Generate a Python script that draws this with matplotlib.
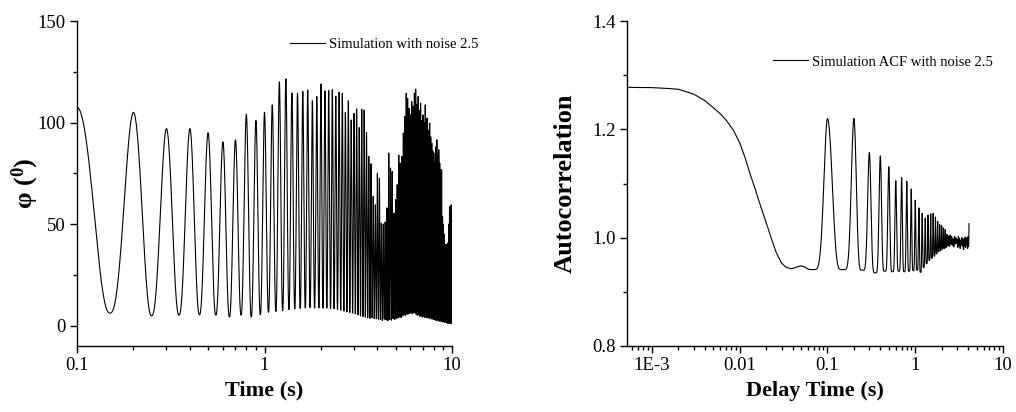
import numpy as np
import matplotlib
matplotlib.use("Agg")
import matplotlib.pyplot as plt
from matplotlib.ticker import FixedLocator, LogLocator, NullFormatter, FixedFormatter

# ---------------- data ----------------
PERIOD = 0.1  # s, oscillation period of the simulated angle

# Left panel: peak values of phi (deg) at t = 0.1, 0.2, ..., 10.0 s
phi_peaks = [107.5, 105, 97, 97, 95, 90.5, 91.5, 104, 101, 105,
             108.7, 120, 121.5, 114.5, 114.5, 115.3, 116, 110.7, 112.8, 119,
             115.6, 115.8, 116.1, 113, 115, 114.4, 105, 110.7, 101.3, 104.5,
             106.7, 97.5, 106.6, 106.2, 95, 83.3, 79.7, 63.6, 59.5, 75,
             72.6, 50.5, 50, 51, 58, 85, 77.6, 75.9, 55.4, 62,
             69.4, 84, 80, 83.3, 94.8, 103, 114.4, 112, 107, 103.8,
             110.3, 108, 114.4, 116.4, 109, 112.8, 106, 109.6, 101, 103.8,
             100, 108.7, 102, 102.2, 96, 99.7, 93, 89.9, 86, 85,
             80, 88, 91.5, 84, 86.6, 80, 76.7, 76.7, 53.8, 50,
             45, 40, 38.2, 40, 40.7, 50, 58.7, 55, 59.5, 59]
# Left panel: trough values of phi (deg) at t = 0.15, 0.25, ..., 9.95 s
phi_troughs = [6.2, 4.9, 5.2, 5.4, 5.2, 4.3, 5.2, 4.3, 5.4, 6.6,
               7.0, 7.5, 7.9, 8.3,
               8.5, 8.7, 8.9, 8.7, 8.8, 8.6, 8.7, 8.5, 8.3, 8.0, 7.6,
               7.2, 6.8, 6.5, 6.2, 5.8, 5.3, 4.8, 4.5, 4.2,
               3.8, 3.6, 3.9, 3.5, 3.4, 3.2,
               3.0, 2.6, 3.2, 2.8, 2.5, 3.1, 2.7, 3.4, 3.0, 3.6,
               3.8, 4.2, 4.0, 4.8, 5.2, 4.9, 5.6, 5.8, 6.0,
               6.2, 5.8, 6.4, 6.2, 5.5, 5.0, 5.3, 4.6, 4.8, 4.2,
               4.5, 4.0, 4.3, 3.8, 4.1, 3.6, 3.9, 3.3, 3.5, 3.0,
               3.2, 2.8, 2.5, 2.9, 2.4, 2.2, 2.6, 2.0, 2.3, 1.8,
               2.0, 1.6, 1.9, 1.4, 1.2, 1.5, 1.1, 1.4, 1.2, 1.0]

# Right panel: smooth decay of the ACF (delay time s, value)
acf_smooth_t = [5.2e-4, 1e-3, 1.5e-3, 2e-3, 3e-3, 4e-3, 5e-3, 6e-3, 7e-3,
                8.5e-3, 0.01, 0.0115, 0.013, 0.015, 0.017, 0.020, 0.023,
                0.026, 0.030, 0.034, 0.039, 0.045, 0.050, 0.055, 0.060, 0.066]
acf_smooth_v = [1.2775, 1.277, 1.2755, 1.274, 1.265, 1.253, 1.240, 1.229, 1.217,
                1.198, 1.175, 1.148, 1.120, 1.090, 1.062, 1.028, 0.998,
                0.973, 0.953, 0.945, 0.9425, 0.946, 0.948, 0.946, 0.942, 0.941]
# Right panel: ACF peaks at delay 0.1, 0.2, ..., 4.1 s
acf_peaks = [1.220, 1.220, 1.157, 1.151, 1.131, 1.105, 1.111, 1.104, 1.090, 1.069,
             1.055, 1.045, 1.036, 1.042, 1.044, 1.045, 1.038, 1.030, 1.024, 1.022,
             1.018, 1.015, 1.006, 1.003, 1.005, 1.002, 0.998, 1.003, 1.000, 0.997,
             1.002, 0.999, 0.995, 1.000, 0.996, 0.998, 1.001, 0.999, 1.000, 1.002,
             1.026]
# Right panel: ACF troughs at delay 0.15, 0.25, ..., 4.05 s
acf_troughs = [0.941, 0.940, 0.935, 0.938, 0.937, 0.938, 0.937, 0.938, 0.939, 0.940,
               0.936, 0.945, 0.952, 0.958, 0.962, 0.966, 0.970, 0.974, 0.976, 0.979,
               0.980, 0.982, 0.985, 0.984, 0.988, 0.986, 0.983, 0.988, 0.990, 0.982,
               0.985, 0.980, 0.987, 0.984, 0.978, 0.985, 0.982, 0.988, 0.980, 0.984]

left_xticklabels = ["0.1", "1", "10"]
right_xticklabels = ["1E-3", "0.01", "0.1", "1", "10"]
left_yticks = [0, 50, 100, 150]
right_yticks = [0.8, 1.0, 1.2, 1.4]


def waveform(ext_t, ext_v, ext_is_peak, p, n=40):
    """Smooth curve through alternating extrema (peak/trough)."""
    ts, vs = [], []
    for i in range(len(ext_t) - 1):
        ta, tb = ext_t[i], ext_t[i + 1]
        va, vb = ext_v[i], ext_v[i + 1]
        s = np.linspace(0, 1, n, endpoint=False)
        if ext_is_peak[i]:
            w = ((1 + np.cos(np.pi * s)) / 2) ** p
            v = vb + (va - vb) * w
        else:
            w = ((1 + np.cos(np.pi * (1 - s))) / 2) ** p
            v = va + (vb - va) * w
        ts.append(ta + (tb - ta) * s)
        vs.append(v)
    ts.append([ext_t[-1]])
    vs.append([ext_v[-1]])
    return np.concatenate(ts), np.concatenate(vs)


# interleave left extrema
lt, lv, lp = [], [], []
for k, pk in enumerate(phi_peaks):
    lt.append(PERIOD * (k + 1)); lv.append(pk); lp.append(True)
    if k < len(phi_troughs):
        lt.append(PERIOD * (k + 1.5)); lv.append(phi_troughs[k]); lp.append(False)
phi_t, phi_v = waveform(lt, lv, lp, p=1.2, n=40)

# interleave ACF extrema (starting at end of smooth part)
at, av, ap = [acf_smooth_t[-1]], [acf_smooth_v[-1]], [False]
for k, pk in enumerate(acf_peaks):
    at.append(PERIOD * (k + 1)); av.append(pk); ap.append(True)
    if k < len(acf_troughs):
        at.append(PERIOD * (k + 1.5)); av.append(acf_troughs[k]); ap.append(False)
osc_t, osc_v = waveform(at, av, ap, p=3, n=40)
acf_t = np.concatenate([acf_smooth_t[:-1], osc_t])
acf_v = np.concatenate([acf_smooth_v[:-1], osc_v])

# ---------------- drawing ----------------
plt.rcParams['font.family'] = ['Liberation Serif', 'DejaVu Serif']
plt.rcParams['mathtext.fontset'] = 'custom'
plt.rcParams['mathtext.rm'] = 'Liberation Serif:bold'
plt.rcParams['mathtext.bf'] = 'Liberation Serif:bold'
plt.rcParams['mathtext.it'] = 'Liberation Serif:bold'

fig = plt.figure(figsize=(10.16, 4.12), dpi=100)
axL = fig.add_axes([77 / 1016, 66 / 412, 375 / 1016, 325 / 412])
axR = fig.add_axes([627 / 1016, 66 / 412, 376 / 1016, 325 / 412])

lw = 0.8
axL.plot(phi_t, phi_v, color='black', lw=lw, label='Simulation with noise 2.5')
axR.plot(acf_t, acf_v, color='black', lw=lw, label='Simulation ACF with noise 2.5')

for ax in (axL, axR):
    ax.set_xscale('log')
    ax.spines['top'].set_visible(False)
    ax.spines['right'].set_visible(False)
    for s in ('left', 'bottom'):
        ax.spines[s].set_linewidth(1.0)
    ax.tick_params(which='major', direction='out', length=5, width=1.0,
                   labelsize=13.5, pad=3)
    ax.tick_params(which='minor', direction='out', length=3, width=1.0)
    ax.xaxis.set_minor_locator(LogLocator(base=10, subs=range(2, 10), numticks=20))
    ax.xaxis.set_minor_formatter(NullFormatter())

# left axes
axL.set_xlim(0.1, 10)
axL.set_ylim(-10, 150)
axL.xaxis.set_major_locator(FixedLocator([0.1, 1, 10]))
axL.xaxis.set_major_formatter(FixedFormatter(left_xticklabels))
axL.yaxis.set_major_locator(FixedLocator(left_yticks))
axL.yaxis.set_minor_locator(FixedLocator([25, 75, 125]))
axL.set_xlabel('Time (s)', fontsize=16, fontweight='bold', va='center')
axL.xaxis.set_label_coords(0.5, -0.138)
axL.set_ylabel('φ ($^{0}$)', fontsize=19, fontweight='bold', va='center')
axL.yaxis.set_label_coords(-0.139, 0.5)
axL.legend(frameon=False, loc='center left', bbox_to_anchor=(0.568, 0.929),
           fontsize=10.5, handlelength=2.4, handletextpad=0.25,
           borderpad=0, borderaxespad=0)

# right axes
axR.set_xlim(5.2e-4, 10)
axR.set_ylim(0.8, 1.4)
axR.xaxis.set_major_locator(FixedLocator([1e-3, 1e-2, 1e-1, 1, 10]))
axR.xaxis.set_major_formatter(FixedFormatter(right_xticklabels))
axR.yaxis.set_major_locator(FixedLocator(right_yticks))
axR.yaxis.set_major_formatter(FixedFormatter(["0.8", "1.0", "1.2", "1.4"]))
axR.yaxis.set_minor_locator(FixedLocator([0.9, 1.1, 1.3]))
axR.set_xlabel('Delay Time (s)', fontsize=16, fontweight='bold', va='center')
axR.xaxis.set_label_coords(0.5, -0.138)
axR.set_ylabel('Autocorrelation', fontsize=19, fontweight='bold', va='center')
axR.yaxis.set_label_coords(-0.165, 0.5)
axR.legend(frameon=False, loc='center left', bbox_to_anchor=(0.388, 0.874),
           fontsize=10.5, handlelength=2.4, handletextpad=0.25,
           borderpad=0, borderaxespad=0)

fig.savefig('out.png', dpi=100)
